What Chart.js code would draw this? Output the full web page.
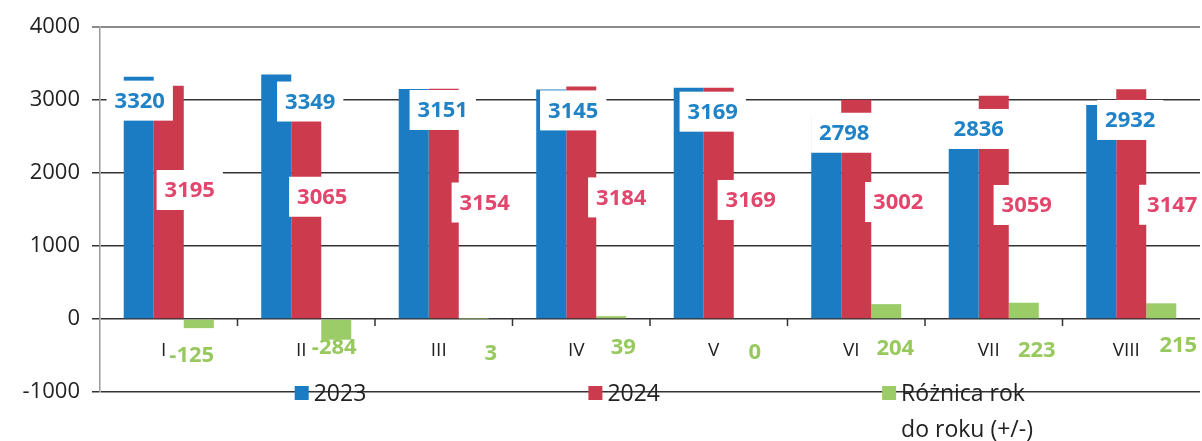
<!DOCTYPE html>
<html>
<head>
<meta charset="utf-8">
<script src="https://cdn.jsdelivr.net/npm/chart.js@4.4.0/dist/chart.umd.min.js"></script>
<style>
  html,body{margin:0;padding:0;background:#fff;}
  #wrap{width:1202px;height:441px;position:relative;}
</style>
</head>
<body>
<div id="wrap"><canvas id="chart"></canvas></div>
<script>
const months=["I","II","III","IV","V","VI","VII","VIII"];
const y2023=[3320,3349,3151,3145,3169,2798,2836,2932];
const y2024=[3195,3065,3154,3184,3169,3002,3059,3147];
const diff=[-125,-284,3,39,0,204,223,215];
const seriesNames=["2023","2024","Różnica rok do roku (+/-)"];
const legendLines=[["2023"],["2024"],["Różnica rok","do roku (+/-)"]];

// przesunięcia etykiet (px), ręcznie poprzesuwane jak w oryginale
const shift2023=[[1,24],[34,27],[29,21],[22,21],[24,24],[18,18],[15,17],[29,15]];
const shift2024=[[21,-12],[16,-10],[41,-1],[40,-5],[32,-3],[42,-7],[33,-2],[41,1]];
const shiftDiff=[[-7,36],[-2,28],[17,34],[12,28],[6,33],[9,29],[13,31],[17,26]];

const BLUE="#1b7cc3", RED="#cc3a4e", GREEN="#9ccc68";
const FONT="'Open Sans', 'Noto Sans', sans-serif";

const labelsPlugin={
  id:"valueLabels",
  afterDatasetsDraw(chart){
    const ctx=chart.ctx, y=chart.scales.y, x=chart.scales.x;
    const zero=y.getPixelForValue(0);
    ctx.save();
    // krótkie znaczniki na osi 0 między kategoriami
    ctx.strokeStyle="#333"; ctx.lineWidth=1.5;
    for(let i=1;i<months.length;i++){
      const px=(x.getPixelForValue(i-1)+x.getPixelForValue(i))/2;
      ctx.beginPath(); ctx.moveTo(px,zero); ctx.lineTo(px,zero+7); ctx.stroke();
    }
    ctx.font="bold 22px "+FONT;
    ctx.textAlign="center"; ctx.textBaseline="middle";
    const box=(txt,cx,cy,color,bg)=>{
      const w=ctx.measureText(txt).width;
      if(bg){ ctx.fillStyle="#fff"; ctx.fillRect(cx-w/2-8,cy-20,w+16,40); }
      ctx.fillStyle=color; ctx.fillText(txt,cx,cy+1);
    };
    chart.getDatasetMeta(0).data.forEach((b,i)=>
      box(String(y2023[i]),b.x+shift2023[i][0],b.y+shift2023[i][1],"#2083c8",true));
    chart.getDatasetMeta(1).data.forEach((b,i)=>
      box(String(y2024[i]),b.x+shift2024[i][0],(b.y+b.base)/2+shift2024[i][1],"#e2466c",true));
    ctx.font="19px "+FONT; ctx.fillStyle="#222";
    months.forEach((m,i)=>ctx.fillText(m,x.getPixelForValue(i)-5,zero+32));
    ctx.font="bold 22px "+FONT;
    chart.getDatasetMeta(2).data.forEach((b,i)=>
      box(String(diff[i]),b.x+shiftDiff[i][0],zero+shiftDiff[i][1],"#98c95e",false));
    ctx.restore();
  },
  afterDraw(chart){
    const ctx=chart.ctx, ca=chart.chartArea;
    const ly=chart.scales.y.getPixelForValue(-1000);
    const colors=[BLUE,RED,GREEN];
    ctx.save();
    ctx.font="23px "+FONT; ctx.textBaseline="middle"; ctx.textAlign="left";
    legendLines.forEach((lines,i)=>{
      const lx=ca.left+ca.width*(0.177+0.267*i);
      ctx.fillStyle=colors[i];
      ctx.fillRect(lx,ly-6,14,14);
      ctx.fillStyle="#222";
      lines.forEach((t,j)=>ctx.fillText(t,lx+19,ly+2+j*36));
    });
    ctx.restore();
  }
};

new Chart(document.getElementById("chart"),{
  type:"bar",
  data:{
    labels:months,
    datasets:[
      {label:seriesNames[0],data:y2023,backgroundColor:BLUE},
      {label:seriesNames[1],data:y2024,backgroundColor:RED},
      {label:seriesNames[2],data:diff,backgroundColor:GREEN}
    ]
  },
  options:{
    responsive:true,maintainAspectRatio:false,animation:false,
    devicePixelRatio:1,
    layout:{padding:{top:27,right:2,bottom:41,left:0}},
    categoryPercentage:0.655,barPercentage:1,
    plugins:{legend:{display:false},tooltip:{enabled:false}},
    scales:{
      x:{
        grid:{display:false},border:{display:false},
        ticks:{display:false}
      },
      y:{
        min:-1000,max:4000,
        afterFit(s){ s.width=100; },
        ticks:{stepSize:1000,color:"#222",padding:12,font:{family:FONT,size:22},
          callback:v=>String(v)},
        grid:{
          color:c=>c.tick&&c.tick.value===4000?"#8a8a8a":"#333",
          lineWidth:c=>c.tick&&c.tick.value===4000?2:1.5,
          tickLength:8
        },
        border:{display:true,color:"#999",width:1.5}
      }
    }
  },
  plugins:[labelsPlugin]
});
</script>
</body>
</html>
